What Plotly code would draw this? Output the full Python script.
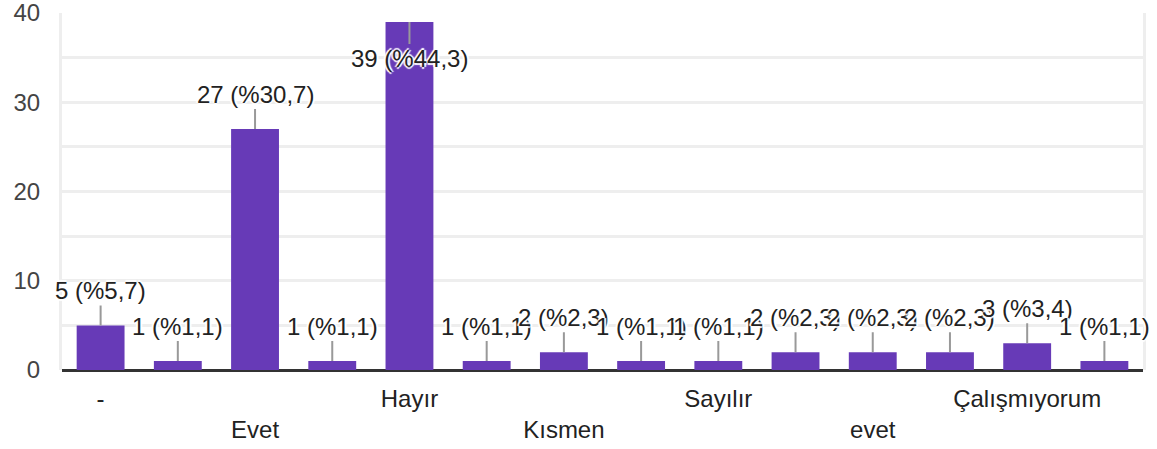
import plotly.graph_objects as go

# Data
categories = ["-", "(gizli 1)", "Evet", "(gizli 2)", "Hayır", "(gizli 3)", "Kısmen",
              "(gizli 4)", "Sayılır", "(gizli 5)", "evet", "(gizli 6)", "Çalışmıyorum", "(gizli 7)"]
shown_labels = ["-", "", "<br>Evet", "", "Hayır", "", "<br>Kısmen",
                "", "Sayılır", "", "<br>evet", "", "Çalışmıyorum", ""]
values = [5, 1, 27, 1, 39, 1, 2, 1, 1, 2, 2, 2, 3, 1]
percents = ["5,7", "1,1", "30,7", "1,1", "44,3", "1,1", "2,3", "1,1", "1,1", "2,3", "2,3", "2,3", "3,4", "1,1"]
y_ticks = [0, 10, 20, 30, 40]

x = list(range(len(categories)))
FONT = "Arial, Liberation Sans, sans-serif"

fig = go.Figure()
fig.add_trace(go.Bar(
    x=x, y=values, marker=dict(color="#673ab7", line=dict(width=0)),
    width=0.62, hovertext=categories, hoverinfo="text+y",
))

halo = "2px 0 1px #fff, -2px 0 1px #fff, 0 2px 1px #fff, 0 -2px 1px #fff"
for xi, v, p in zip(x, values, percents):
    above = v < 35
    fig.add_annotation(
        x=xi, y=v, xref="x", yref="y",
        text=f"{v} (%{p})",
        showarrow=True, arrowhead=0, arrowwidth=2, arrowcolor="#999999",
        ax=0, ay=-35 if above else 37, standoff=0,
        font=dict(family=FONT, size=24, color="#222222", shadow=halo),
    )

fig.update_layout(
    width=1157, height=449,
    margin=dict(l=62, r=14, t=13, b=79),
    paper_bgcolor="white", plot_bgcolor="white",
    showlegend=False, bargap=0.38,
    xaxis=dict(
        range=[-0.5, 13.5], tickmode="array", tickvals=x, ticktext=shown_labels,
        showgrid=False, zeroline=False, showline=False, ticks="",
        tickfont=dict(family=FONT, size=24, color="#222222"),
        tickangle=0, ticklabelstandoff=12, automargin=False,
        ticklabeloverflow="allow",
    ),
    yaxis=dict(
        range=[0, 40], tickmode="array", tickvals=y_ticks,
        showgrid=True, gridcolor="#eeeeee", gridwidth=3,
        minor=dict(dtick=5, showgrid=True, gridcolor="#eeeeee", gridwidth=3),
        zeroline=True, zerolinecolor="#333333", zerolinewidth=3,
        showline=True, mirror=True, linecolor="#eeeeee", linewidth=3,
        ticks="", ticklabelstandoff=14, automargin=False,
        ticklabeloverflow="allow",
        tickfont=dict(family=FONT, size=24, color="#444444"),
    ),
)

fig.write_html("out.html", config={"displayModeBar": False},
               post_script="document.body.style.margin='0';")
